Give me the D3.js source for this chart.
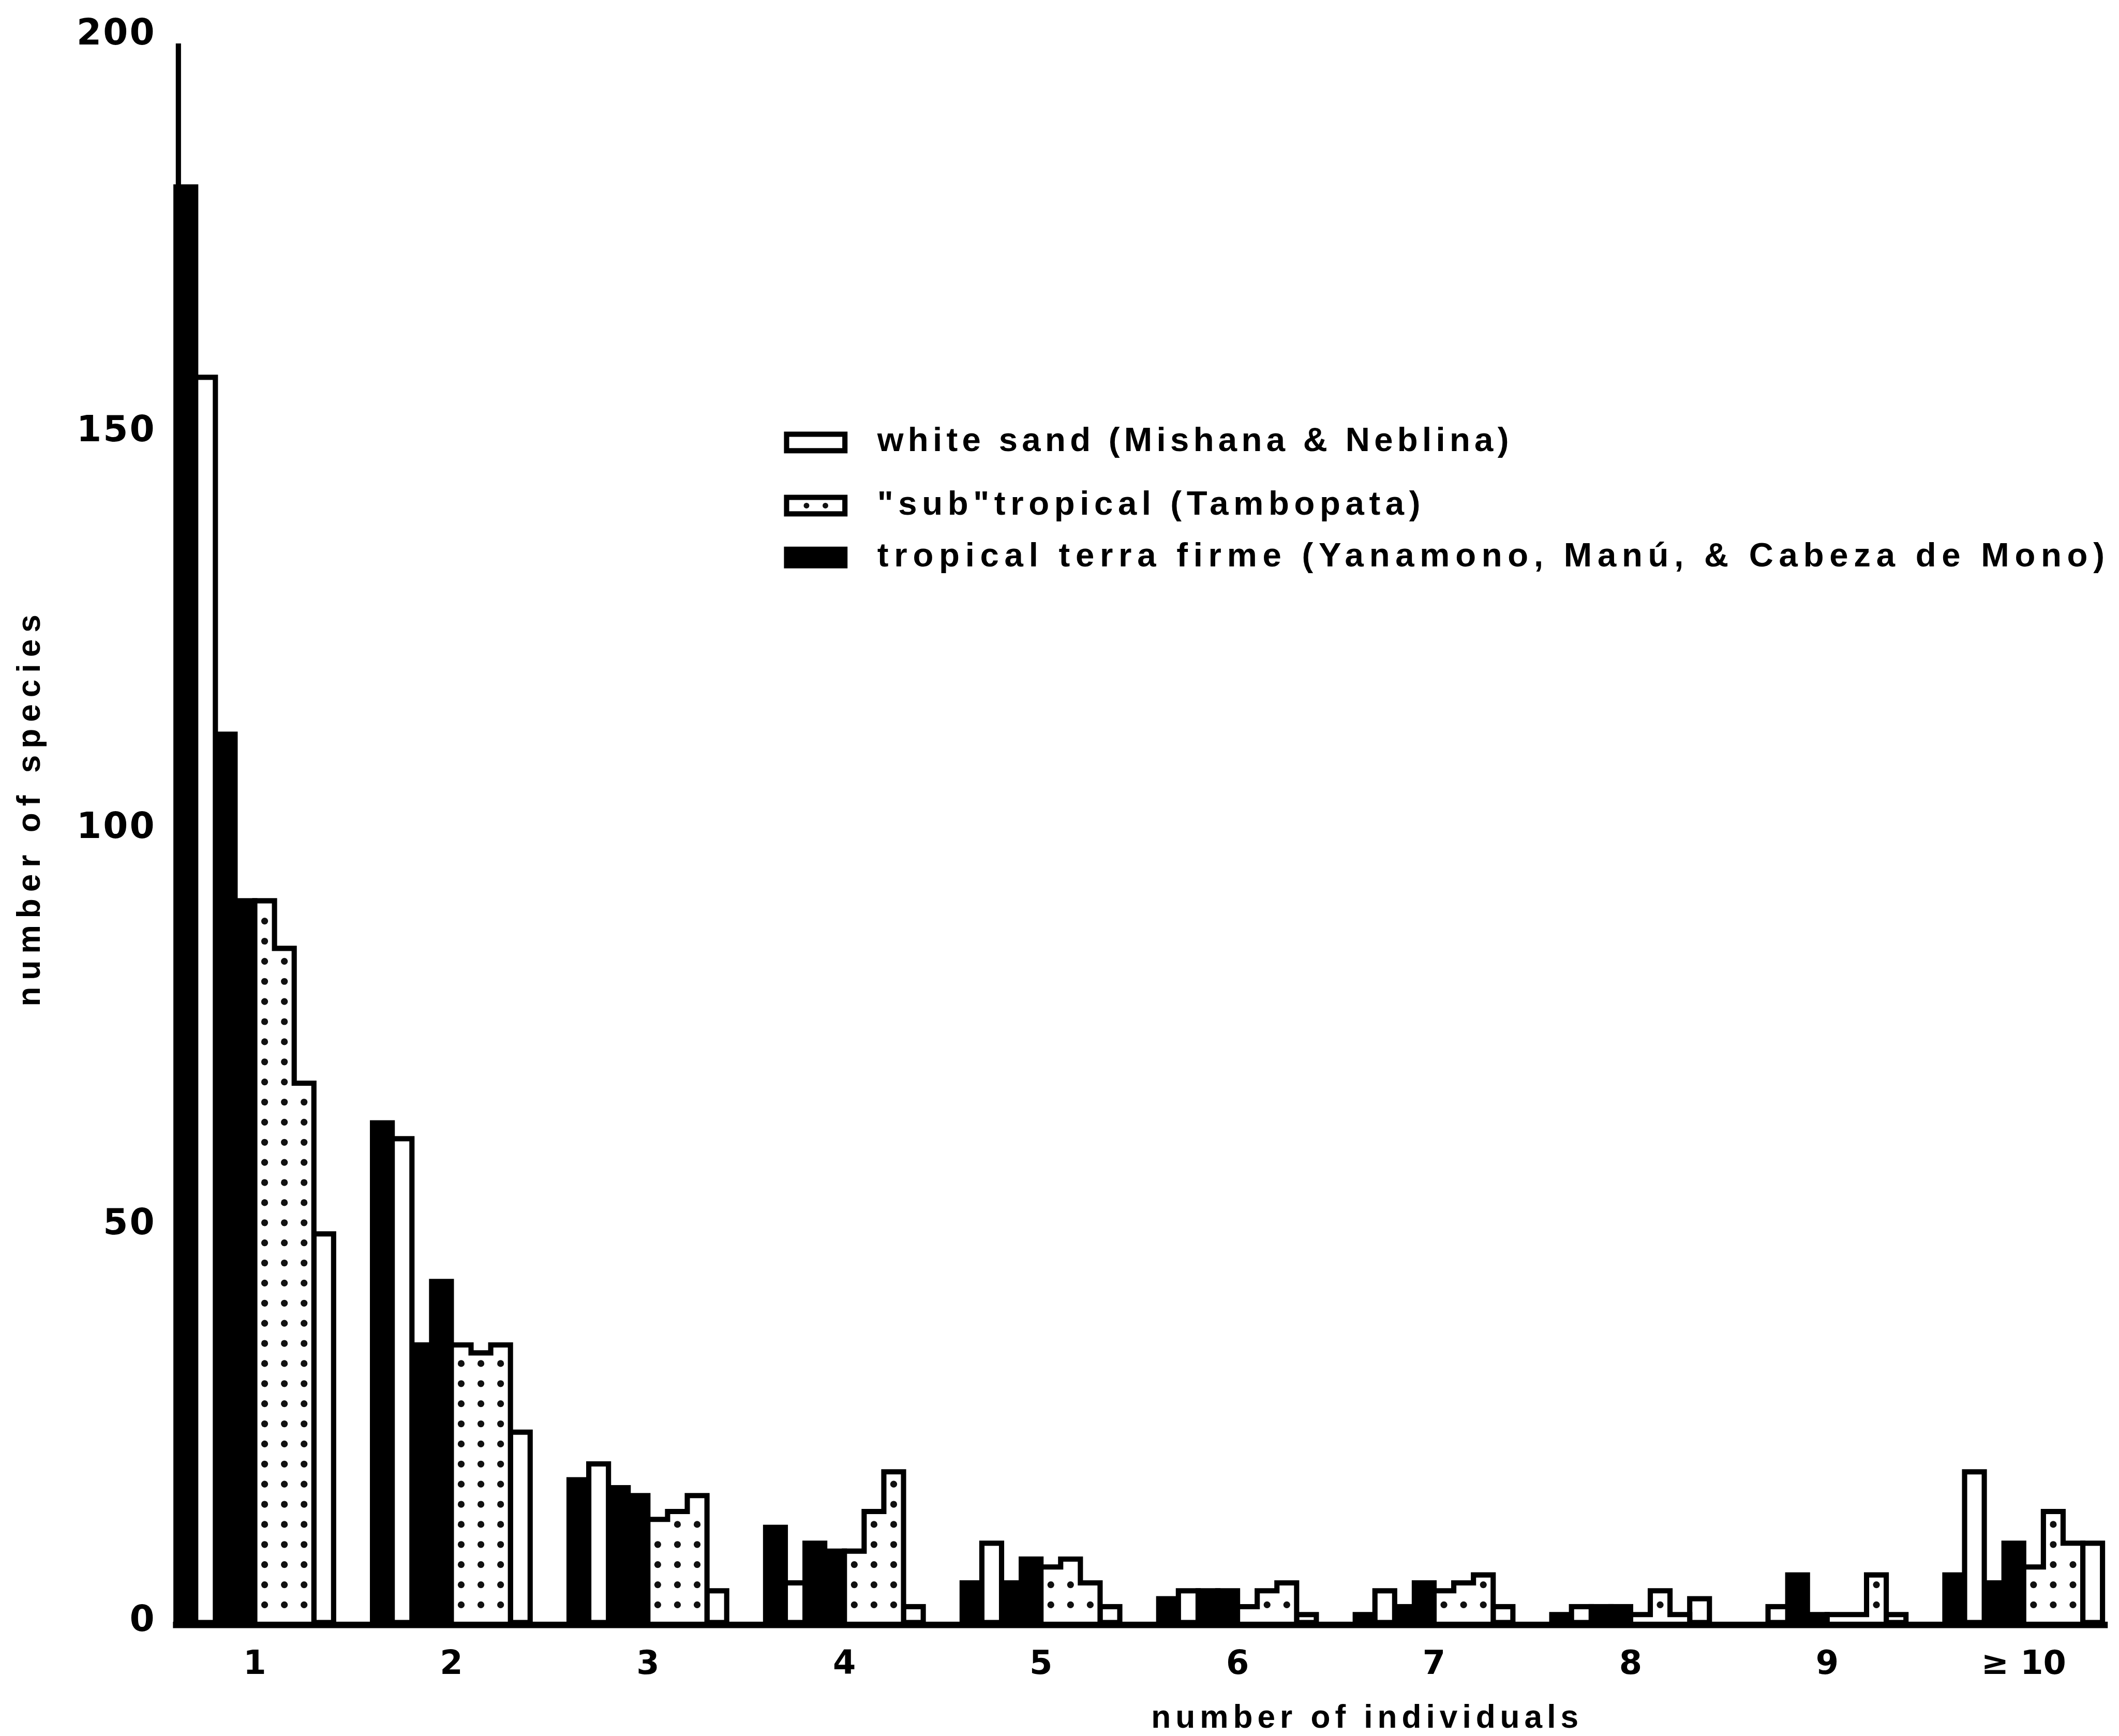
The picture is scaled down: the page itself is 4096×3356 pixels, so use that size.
<!DOCTYPE html>
<html>
<head>
<meta charset="utf-8">
<script src="https://cdn.jsdelivr.net/npm/d3@7"></script>
<style>
  html, body { margin: 0; padding: 0; background: #fff; }
  svg { display: block; }
</style>
</head>
<body>
<script>
// Abundance classes (number of individuals per species)
const categories = ["1", "2", "3", "4", "5", "6", "7", "8", "9", "≥ 10"];
const yTicks = [0, 50, 100, 150, 200];

// Habitat types and their legend labels
const habitatKeys = ["whiteSand", "subtropical", "terraFirme"];
const habitatLabels = [
  "white sand (Mishana & Neblina)",
  "\"sub\"tropical (Tambopata)",
  "tropical terra firme (Yanamono, Manú, & Cabeza de Mono)"
];

// Number of species in each abundance class, one array per plot,
// listed in the order the plots stand inside each group
const terraFirme1  = [181, 63, 18, 12,  5, 3, 1, 1, 0,  6];
const whiteSand1   = [157, 61, 20,  5, 10, 4, 4, 2, 2, 19];
const terraFirme2  = [112, 35, 17, 10,  5, 4, 2, 2, 6,  5];
const terraFirme3  = [ 91, 43, 16,  9,  8, 4, 5, 2, 1, 10];
const subtropical1 = [ 91, 35, 13,  9,  7, 2, 4, 1, 1,  7];
const subtropical2 = [ 85, 34, 14, 14,  8, 4, 5, 4, 1, 14];
const subtropical3 = [ 68, 35, 16, 19,  5, 5, 6, 1, 6, 10];
const whiteSand2   = [ 49, 24,  4,  2,  2, 1, 2, 3, 1, 10];

const plotHabitats = ["terraFirme", "whiteSand", "terraFirme", "terraFirme",
                      "subtropical", "subtropical", "subtropical", "whiteSand"];
const plotValues = [terraFirme1, whiteSand1, terraFirme2, terraFirme3,
                    subtropical1, subtropical2, subtropical3, whiteSand2];

// ---- drawing ----
const W = 5268, H = 4316, SW = 13;
const WORD_FONT = "'Liberation Sans', Arial, sans-serif";
const DIGIT_FONT = "'DejaVu Sans', sans-serif";

const svg = d3.select("body").append("svg")
  .attr("width", 4096).attr("height", 3356)
  .attr("viewBox", `0 0 ${W} ${H}`);
svg.append("rect").attr("width", W).attr("height", H).attr("fill", "#fff");

const x = d3.scaleBand().domain(categories).range([437.5, 5227]).paddingInner(0.198).paddingOuter(0);
const xs = d3.scaleBand().domain(d3.range(plotValues.length)).range([0, x.bandwidth()]);
const y = d3.scaleLinear().domain([0, 200]).range([4034, 90]);

const bars = categories.flatMap((c, i) =>
  plotValues.map((vals, j) => ({ cat: c, j, habitat: plotHabitats[j], value: vals[i] })));
const bx = d => x(d.cat) + xs(d.j);
const bw = xs.bandwidth();

const plot = svg.append("g");

// terra firme: solid black bars
plot.selectAll("rect.tf")
  .data(bars.filter(d => d.habitat === "terraFirme"))
  .join("rect").attr("class", "tf")
  .attr("x", bx).attr("width", bw)
  .attr("y", d => y(d.value)).attr("height", d => y(0) - y(d.value))
  .attr("fill", "#000").attr("stroke", "#000").attr("stroke-width", SW);

// white sand: open bars
plot.selectAll("rect.ws")
  .data(bars.filter(d => d.habitat === "whiteSand"))
  .join("rect").attr("class", "ws")
  .attr("x", bx).attr("width", bw)
  .attr("y", d => y(d.value)).attr("height", d => y(0) - y(d.value))
  .attr("fill", "#fff").attr("stroke", "#000").attr("stroke-width", SW)
  .attr("stroke-linejoin", "miter");

// subtropical: stippled bars sharing one stepped outline per group
const sub = bars.filter(d => d.habitat === "subtropical");
plot.selectAll("rect.st")
  .data(sub)
  .join("rect").attr("class", "st")
  .attr("x", bx).attr("width", bw)
  .attr("y", d => y(d.value)).attr("height", d => y(0) - y(d.value))
  .attr("fill", "#fff");

const dots = sub.flatMap(d => {
  const top = y(d.value), cx = bx(d) + bw / 2, out = [];
  for (let cy = y(0) - 44; cy > top + 22; cy -= 50) out.push({ cx, cy });
  return out;
});
plot.selectAll("circle.dot").data(dots).join("circle").attr("class", "dot")
  .attr("cx", d => d.cx).attr("cy", d => d.cy).attr("r", 8.5).attr("fill", "#111");

const step = d3.line().curve(d3.curveStepAfter);
categories.forEach(c => {
  const s = sub.filter(d => d.cat === c);
  const last = s[s.length - 1];
  const pts = [[bx(s[0]), y(0)]];
  s.forEach(d => pts.push([bx(d), y(d.value)]));
  pts.push([bx(last) + bw, y(last.value)]);
  pts.push([bx(last) + bw, y(0)]);
  plot.append("path").attr("d", step(pts))
    .attr("fill", "none").attr("stroke", "#000").attr("stroke-width", SW)
    .attr("stroke-linejoin", "miter");
});

// axes lines
svg.append("line")
  .attr("x1", 443.5).attr("x2", 443.5).attr("y1", 108).attr("y2", y(0) + 6)
  .attr("stroke", "#000").attr("stroke-width", 13);
svg.append("line")
  .attr("x1", 430).attr("x2", 5240).attr("y1", y(0) + 6).attr("y2", y(0) + 6)
  .attr("stroke", "#000").attr("stroke-width", 16);

// y tick labels
const yAxis = svg.append("g")
  .attr("transform", "translate(443,-8)")
  .call(d3.axisLeft(y).tickValues(yTicks).tickSize(0).tickPadding(55).tickFormat(d3.format("d")));
yAxis.select(".domain").remove();
yAxis.attr("font-family", DIGIT_FONT).attr("font-size", 89).attr("font-weight", "bold");
yAxis.selectAll("text").attr("fill", "#000").style("letter-spacing", "4px");

// x tick labels
const xAxis = svg.append("g")
  .attr("transform", `translate(0,${y(0) + 6})`)
  .call(d3.axisBottom(x).tickSize(0).tickPadding(64));
xAxis.select(".domain").remove();
xAxis.attr("font-family", DIGIT_FONT).attr("font-size", 82).attr("font-weight", "bold");
xAxis.selectAll("text").attr("fill", "#000");

// axis titles
svg.append("text")
  .attr("x", 3393).attr("y", 4296)
  .attr("text-anchor", "middle")
  .attr("textLength", 1062).attr("lengthAdjust", "spacing")
  .attr("font-family", WORD_FONT).attr("font-size", 80).attr("font-weight", "bold")
  .text("number of individuals");

svg.append("text")
  .attr("transform", "translate(99,2015) rotate(-90)")
  .attr("text-anchor", "middle")
  .attr("textLength", 974).attr("lengthAdjust", "spacing")
  .attr("font-family", WORD_FONT).attr("font-size", 80).attr("font-weight", "bold")
  .text("number of species");

// legend
const legendY = [1100, 1257, 1386];
const legendWidths = [1570, 1350, 3051];
const legend = svg.append("g");
habitatKeys.forEach((k, i) => {
  const cy = legendY[i];
  legend.append("rect")
    .attr("x", 1955.5).attr("y", cy - 20.5).attr("width", 145).attr("height", 41)
    .attr("fill", k === "terraFirme" ? "#000" : "#fff")
    .attr("stroke", "#000").attr("stroke-width", SW);
  if (k === "subtropical") {
    [2005, 2052].forEach(cx => legend.append("circle")
      .attr("cx", cx).attr("cy", cy).attr("r", 7).attr("fill", "#111"));
  }
  legend.append("text")
    .attr("x", 2181).attr("y", cy + 22)
    .attr("textLength", legendWidths[i]).attr("lengthAdjust", "spacing")
    .attr("font-family", WORD_FONT).attr("font-size", 84).attr("font-weight", "bold")
    .text(habitatLabels[i]);
});
</script>
</body>
</html>
